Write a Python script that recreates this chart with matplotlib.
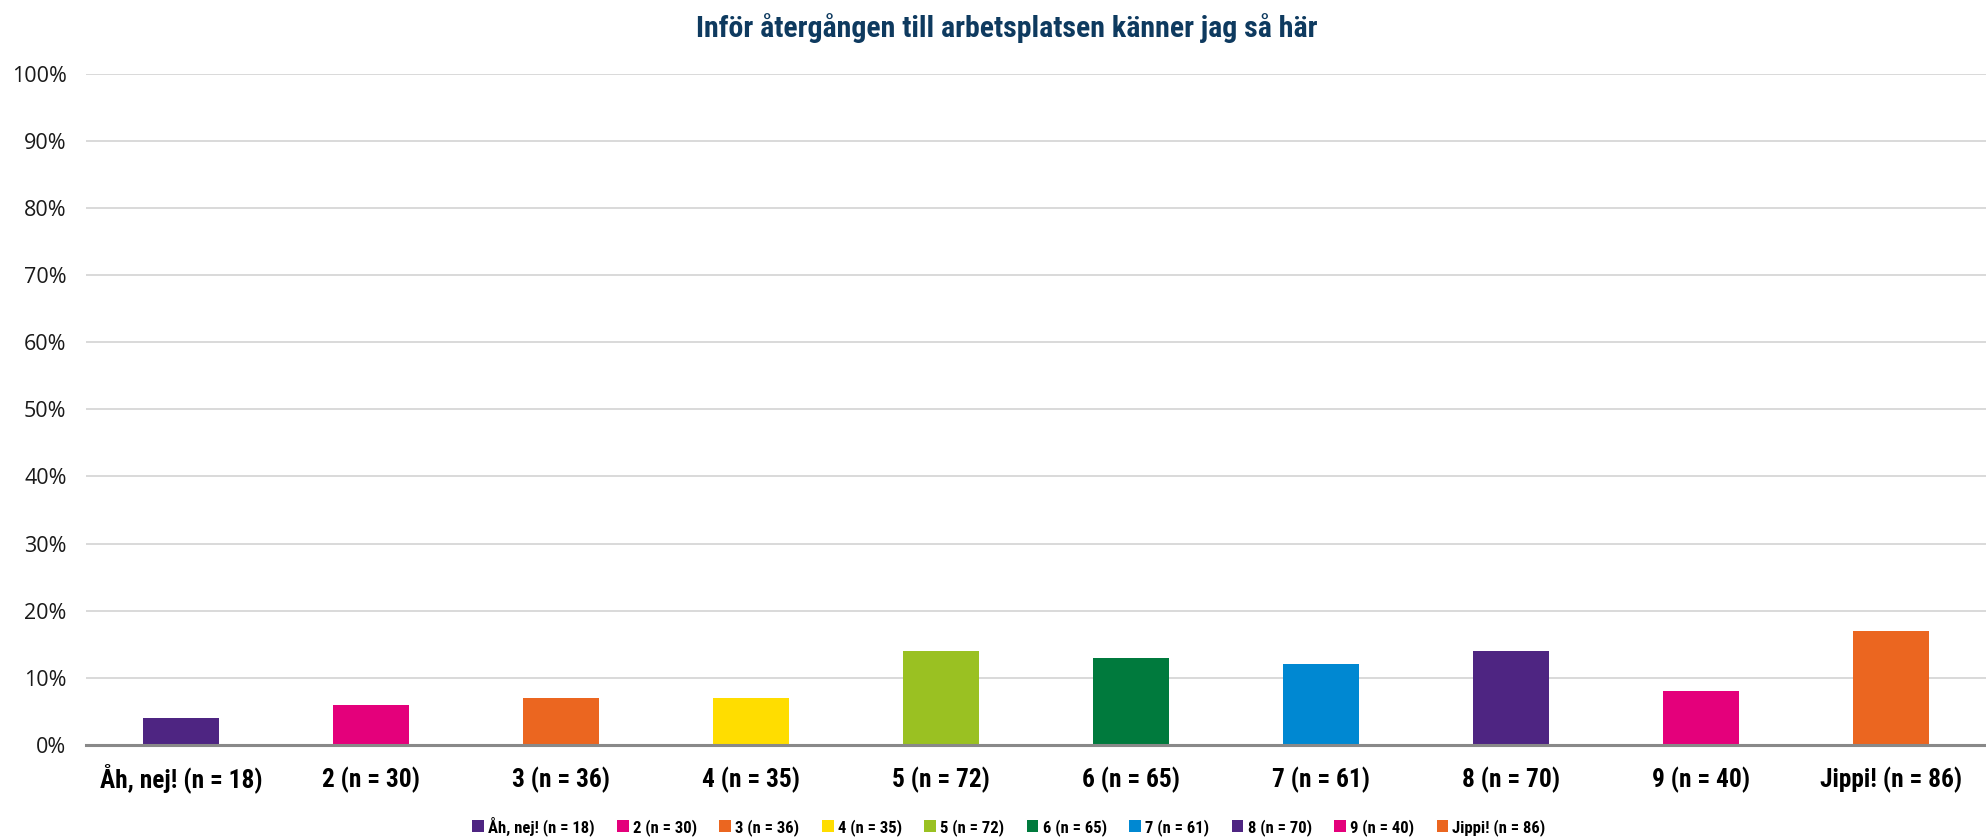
import matplotlib
matplotlib.use("Agg")
import matplotlib.pyplot as plt
from matplotlib import font_manager
from matplotlib.patches import Patch

# Survey answers: share of respondents per answer on the 1-10 scale
categories = ["Åh, nej! (n = 18)", "2 (n = 30)", "3 (n = 36)", "4 (n = 35)", "5 (n = 72)",
              "6 (n = 65)", "7 (n = 61)", "8 (n = 70)", "9 (n = 40)", "Jippi! (n = 86)"]
shares = [4, 6, 7, 7, 14, 13, 12, 14, 8, 17]
colors = ["#4E2582", "#E4007B", "#EB6620", "#FFDD00", "#9AC122",
          "#007A3D", "#0088D2", "#4E2582", "#E4007B", "#EB6620"]
yticks = list(range(0, 101, 10))
title = "Inför återgången till arbetsplatsen känner jag så här"

# Pick the narrowest available family for the condensed labels
available = {f.name for f in font_manager.fontManager.ttflist}
narrow = next((n for n in ["Roboto Condensed", "Liberation Sans Narrow", "Open Sans Condensed"]
               if n in available), None)
cond_kw = {"family": narrow} if narrow else {"family": "DejaVu Sans", "stretch": "condensed"}

fig = plt.figure(figsize=(19.86, 8.38), dpi=100)
ax = fig.add_axes([0.0433, 0.111, 0.9567, 0.8012])

x = range(len(categories))
ax.bar(x, shares, width=0.4, color=colors, zorder=3)

ax.set_xlim(-0.5, len(categories) - 0.5)
ax.set_ylim(0, 100)
ax.set_yticks(yticks)
ax.set_yticklabels([f"{t}%" for t in yticks], family="Open Sans", fontsize=15.5, color="#1a1a1a")
ax.tick_params(axis="y", length=0, pad=14)
ax.set_xticks(list(x))
ax.set_xticklabels(categories, fontsize=18.3, fontweight="bold", color="#000000", **cond_kw)
# align all category labels on a common baseline
for lbl in ax.get_xticklabels():
    lbl.set_verticalalignment("baseline")
ax.tick_params(axis="x", length=0, pad=30.5)

ax.yaxis.grid(True, color="#D9D9D9", linewidth=1.4, zorder=0)
for s in ["left", "right", "top"]:
    ax.spines[s].set_visible(False)
ax.spines["bottom"].set_color("#898989")
ax.spines["bottom"].set_linewidth(2.2)
ax.spines["bottom"].set_zorder(4)

fig.text(0.507, 0.966, title, ha="center", va="center", fontsize=21.5, fontweight="bold",
         color="#0E3A5F", **cond_kw)

handles = [Patch(facecolor=c, edgecolor="none") for c in colors]
leg = fig.legend(handles, categories, loc="center", bbox_to_anchor=(0.508, 0.0145), ncol=10,
                 frameon=False, handlelength=0.7, handleheight=0.7, handletextpad=0.25,
                 columnspacing=1.35, prop=dict(size=12, weight="bold", **cond_kw))

fig.savefig("out.png", dpi=100, facecolor="white")
